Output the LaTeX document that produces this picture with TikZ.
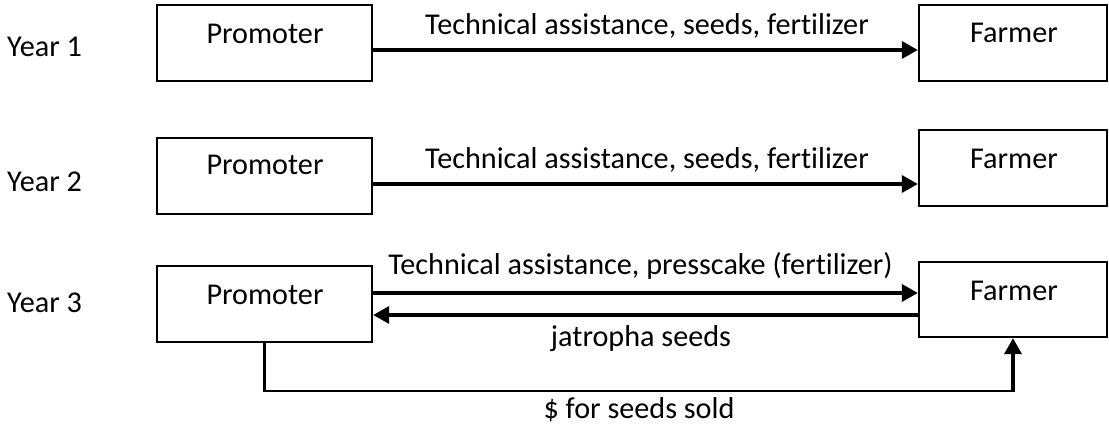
\documentclass[tikz,border=0pt]{standalone}
\usepackage{fontspec}
\setmainfont{Carlito}[RawFeature=-liga]
\usetikzlibrary{arrows.meta}
\begin{document}
\begin{tikzpicture}[x=1pt,y=-1pt,
  box/.style={draw=black, line width=2.3pt, rectangle, inner sep=0pt, minimum height=76pt},
  pbox/.style={box, minimum width=215pt},
  fbox/.style={box, minimum width=188pt},
  txt/.style={inner sep=0pt, anchor=base, font=\fontsize{30.2}{36}\selectfont},
  ylab/.style={txt, anchor=base west},
  arr/.style={line width=3.4pt, -{Triangle[length=16pt,width=17pt]}},
  conn/.style={line width=2.3pt}
]
\useasboundingbox (0,0) rectangle (1109,427);

% Year labels
\node[ylab] (y1) at (7,57) {Year 1};
\node[ylab] (y2) at (7,192) {Year 2};
\node[ylab] (y3) at (7,313) {Year 3};

% Row 1
\node[pbox] (p1) at (264.5,43) {};
\node[fbox] (f1) at (1013,43) {};
\node[txt] (p1t) at (265,44) {Promoter};
\node[txt] (f1t) at (1014,43) {Farmer};
\draw[arr] ([yshift=-7pt]p1.east) -- ([yshift=-7pt]f1.west);
\node[txt] (l1) at (647,35) {Technical assistance, seeds, fertilizer};

% Row 2
\node[pbox] (p2) at (264.5,176) {};
\node[fbox] (f2) at (1013,168) {};
\node[txt] (p2t) at (265,175) {Promoter};
\node[txt] (f2t) at (1014,169) {Farmer};
\draw[arr] ([yshift=-8pt]p2.east) -- ([yshift=-8pt]p2.east -| f2.west);
\node[txt] (l2) at (647,169) {Technical assistance, seeds, fertilizer};

% Row 3
\node[pbox] (p3) at (264.5,304) {};
\node[fbox, minimum height=75pt] (f3) at (1013,299.5) {};
\node[txt] (p3t) at (265,305) {Promoter};
\node[txt] (f3t) at (1014,301) {Farmer};
\draw[arr] ([yshift=11pt]p3.east) -- ([yshift=11pt]p3.east -| f3.west);
\draw[arr] ([yshift=-11pt]p3.east -| f3.west) -- ([yshift=-11pt]p3.east);
\node[txt] (l3a) at (640.5,275) {Technical assistance, presscake (fertilizer)};
\node[txt] (l3b) at (641,347) {jatropha seeds};

\coordinate (m) at (0,391);
\draw[conn] (p3.south) -- (p3.south |- m) -- (f3.south |- m);
\draw[arr] ([yshift=-1.15pt]f3.south |- m) -- (f3.south);
\node[txt] (l3c) at (639,419) {\$ for seeds sold};
\end{tikzpicture}
\end{document}
